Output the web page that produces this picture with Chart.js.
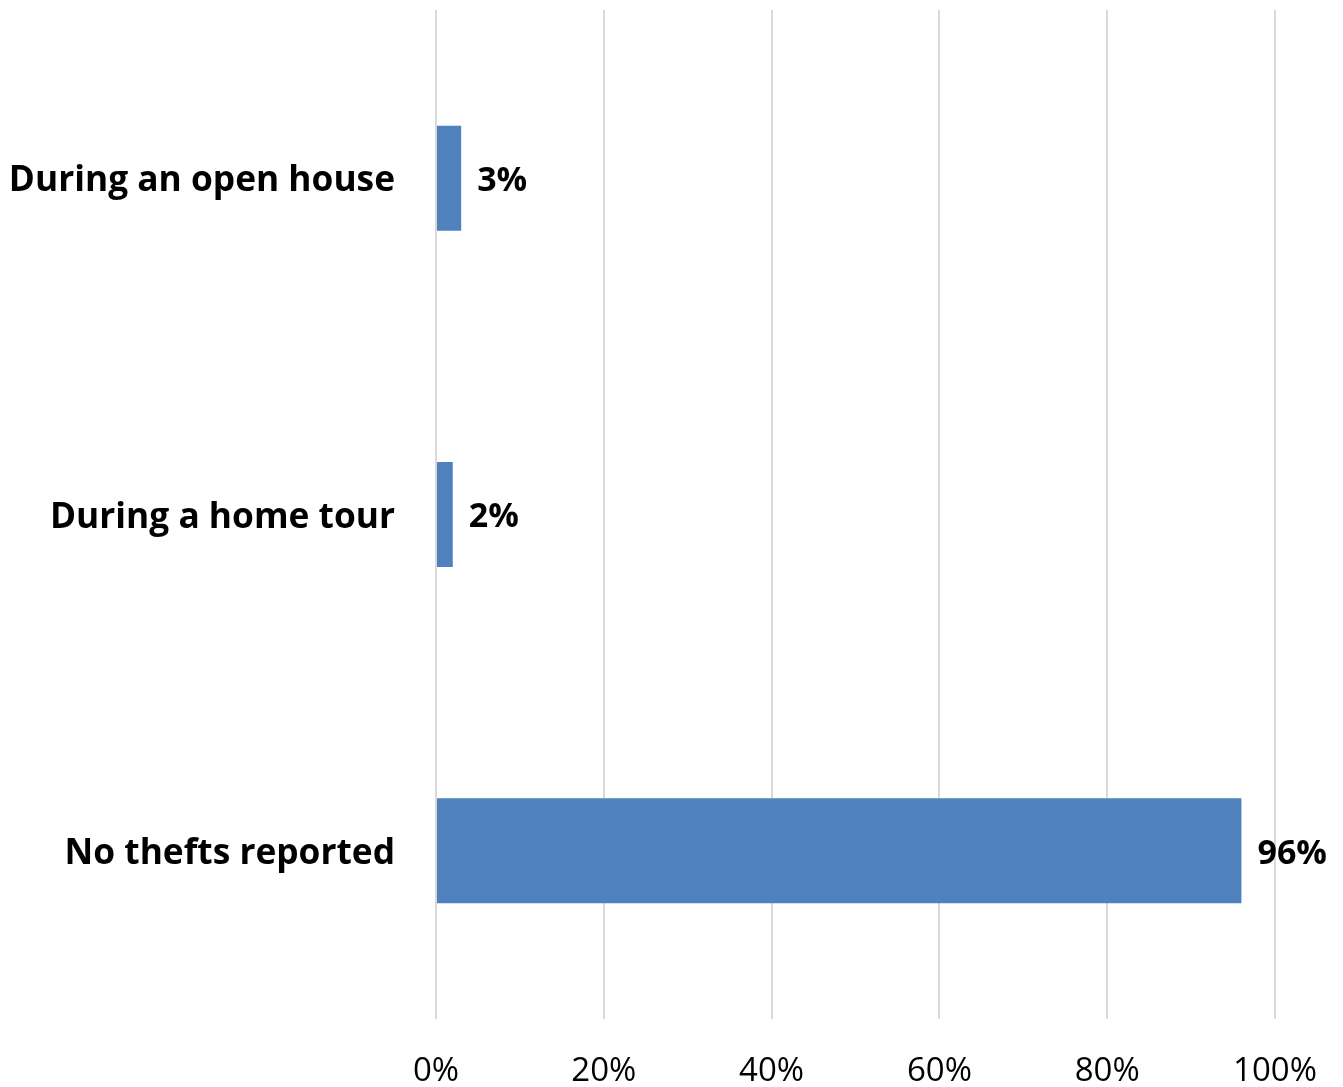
<!DOCTYPE html>
<html>
<head>
<meta charset="utf-8">
<script src="https://cdn.jsdelivr.net/npm/chart.js@4.4.1/dist/chart.umd.min.js"></script>
<style>
  html, body { margin: 0; padding: 0; background: #ffffff; }
  #wrap { width: 1343px; height: 1087px; position: relative; }
</style>
</head>
<body>
<div id="wrap"><canvas id="c"></canvas></div>
<script>
const categories = ["During an open house", "During a home tour", "No thefts reported"];
const values = [3, 2, 96];
const xTicks = [0, 20, 40, 60, 80, 100];

const FONT = "'Open Sans', sans-serif";

const valueLabels = {
  id: 'valueLabels',
  afterDatasetsDraw(chart) {
    const ctx = chart.ctx;
    const meta = chart.getDatasetMeta(0);
    ctx.save();
    ctx.font = "bold 34px " + FONT;
    ctx.fillStyle = "#000000";
    ctx.textAlign = "left";
    ctx.textBaseline = "middle";
    meta.data.forEach((bar, i) => {
      ctx.fillText(values[i] + "%", bar.x + 16, bar.y + 3);
    });
    ctx.restore();
  }
};

new Chart(document.getElementById('c'), {
  type: 'bar',
  data: {
    labels: categories,
    datasets: [{
      data: values,
      backgroundColor: '#4f81bd',
      borderWidth: 0,
      categoryPercentage: 1.0,
      barPercentage: 0.312
    }]
  },
  options: {
    indexAxis: 'y',
    responsive: true,
    maintainAspectRatio: false,
    animation: false,
    layout: { padding: { top: 10, right: 68, left: 0, bottom: 0 } },
    plugins: { legend: { display: false }, tooltip: { enabled: false } },
    scales: {
      x: {
        min: 0, max: 100,
        afterBuildTicks(axis) { axis.ticks = xTicks.map(v => ({ value: v })); },
        afterFit(axis) { axis.height = 68; axis.paddingLeft = 0; axis.paddingRight = 0; },
        grid: { color: '#d9d9d9', lineWidth: 2, drawTicks: false },
        border: { display: false },
        ticks: {
          padding: 33,
          color: '#000000',
          font: { family: FONT, size: 33 },
          maxRotation: 0,
          callback: v => v + '%'
        }
      },
      y: {
        afterFit(axis) { axis.width = 436; axis.paddingTop = 0; axis.paddingBottom = 0; },
        grid: { display: false, drawTicks: false },
        border: { display: false },
        ticks: {
          padding: 41,
          labelOffset: 3,
          color: '#000000',
          font: { family: FONT, size: 35.3, weight: 'bold' }
        }
      }
    }
  },
  plugins: [valueLabels]
});
</script>
</body>
</html>
